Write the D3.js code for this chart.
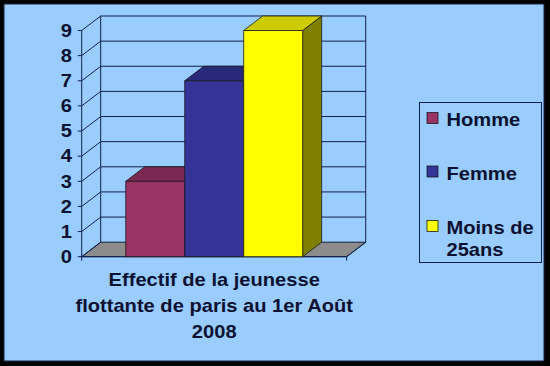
<!DOCTYPE html>
<html>
<head>
<meta charset="utf-8">
<script src="https://cdn.jsdelivr.net/npm/d3@7"></script>
<style>
body{margin:0;padding:0;background:#000;}
svg{display:block;font-family:"Liberation Sans",Arial,sans-serif;}
</style>
</head>
<body>
<div id="chart"></div>
<script>
const categories = ["Effectif de la jeunesse flottante de paris au 1er Août 2008"];
const catLines = ["Effectif de la jeunesse", "flottante de paris au 1er Août", "2008"];
const series = ["Homme", "Femme", "Moins de 25ans"];
const legendLines = [["Homme"], ["Femme"], ["Moins de", "25ans"]];
const values = [3, 7, 9];
const yTicks = [0, 1, 2, 3, 4, 5, 6, 7, 8, 9];

const front = ["#993366", "#333399", "#ffff00"];
const topC = ["#7a2952", "#29297a", "#cccc00"];
const sideC = ["#5c1f3d", "#1f1f5c", "#808000"];
const ink = "#0d1030";
const gridC = "#10204a";

const W = 550, H = 366;
const dx = 19, dy = -14.5;
const fs = 17.5, sx = 1.15;

const svg = d3.select("#chart").append("svg")
  .attr("width", W).attr("height", H);

svg.append("rect").attr("width", W).attr("height", H).attr("fill", "#000");
svg.append("rect").attr("x", 4).attr("y", 4).attr("width", 540).attr("height", 357)
  .attr("fill", "#99ccff").attr("stroke", "#1a2040").attr("stroke-width", 1);

const y = d3.scaleLinear().domain([0, 9]).range([256.7, 30.5]);
const x0 = d3.scaleBand().domain(categories).range([81.7, 346.7]).paddingOuter(0.249).paddingInner(0);
const x1 = d3.scaleBand().domain(series).range([0, x0.bandwidth()]);

const xl = 81.7, xr = 346.7;

// stretched bold text like the original
function label(sel, x, yy, t, anchor) {
  sel.append("text")
    .attr("transform", `translate(${x},${yy}) scale(${sx},1)`)
    .attr("text-anchor", anchor || "start")
    .attr("font-size", fs).attr("font-weight", "bold").attr("fill", ink)
    .text(t);
}

// floor
svg.append("polygon")
  .attr("points", [[xl, y(0)], [xr, y(0)], [xr + dx, y(0) + dy], [xl + dx, y(0) + dy]].join(" "))
  .attr("fill", "#8c8c8c").attr("stroke", gridC).attr("stroke-width", 1);

// back wall gridlines
const g = svg.append("g").attr("stroke", gridC).attr("stroke-width", 1).attr("fill", "none");
yTicks.forEach(v => {
  if (v > 0) g.append("line").attr("x1", xl + dx).attr("x2", xr + dx).attr("y1", y(v) + dy).attr("y2", y(v) + dy);
  g.append("line").attr("x1", xl).attr("x2", xl + dx).attr("y1", y(v)).attr("y2", y(v) + dy);
  g.append("line").attr("x1", xl - 4).attr("x2", xl).attr("y1", y(v)).attr("y2", y(v));
});
g.append("line").attr("x1", xl + dx).attr("x2", xl + dx).attr("y1", y(0) + dy).attr("y2", y(9) + dy);
g.append("line").attr("x1", xr + dx).attr("x2", xr + dx).attr("y1", y(0) + dy).attr("y2", y(9) + dy);
g.append("line").attr("x1", xl).attr("x2", xl).attr("y1", y(0)).attr("y2", y(9));

// bars
const bars = svg.append("g").attr("stroke", "#1a1a1a").attr("stroke-width", 0.8).attr("stroke-linejoin", "round");
series.forEach((s, i) => {
  const bx = x0(categories[0]) + x1(s);
  const bw = x1.bandwidth();
  const yt = y(values[i]), yb = y(0);
  bars.append("polygon")
    .attr("points", [[bx + bw, yt], [bx + bw + dx, yt + dy], [bx + bw + dx, yb + dy], [bx + bw, yb]].join(" "))
    .attr("fill", sideC[i]);
  bars.append("polygon")
    .attr("points", [[bx, yt], [bx + dx, yt + dy], [bx + bw + dx, yt + dy], [bx + bw, yt]].join(" "))
    .attr("fill", topC[i]);
  bars.append("rect")
    .attr("x", bx).attr("y", yt).attr("width", bw).attr("height", yb - yt)
    .attr("fill", front[i]);
});

// x axis line and ticks
g.append("line").attr("x1", xl).attr("x2", xr).attr("y1", y(0)).attr("y2", y(0));
g.append("line").attr("x1", xr).attr("x2", xr + dx).attr("y1", y(0)).attr("y2", y(0) + dy);
[xl, xr].forEach(t => g.append("line").attr("x1", t).attr("x2", t).attr("y1", y(0)).attr("y2", y(0) + 4));

// y labels
const yl = svg.append("g");
yTicks.forEach(v => label(yl, 72, y(v) + 6.3, v, "end"));

// category label
const cx = x0(categories[0]) + x0.bandwidth() / 2;
const cl = svg.append("g");
catLines.forEach((t, i) => label(cl, cx, 286 + i * 25.8, t, "middle"));

// legend
svg.append("rect").attr("x", 419.5).attr("y", 102.5).attr("width", 122).attr("height", 160)
  .attr("fill", "none").attr("stroke", gridC).attr("stroke-width", 1);
const lgBase = [126, 179.5, 234];
const lg = svg.append("g");
series.forEach((s, i) => {
  lg.append("rect").attr("x", 427).attr("y", lgBase[i] - 13.5).attr("width", 11).attr("height", 11)
    .attr("fill", front[i]).attr("stroke", "#1a1a1a").attr("stroke-width", 0.8);
  legendLines[i].forEach((t, j) => label(lg, 446.5, lgBase[i] + j * 21.5, t));
});
</script>
</body>
</html>
